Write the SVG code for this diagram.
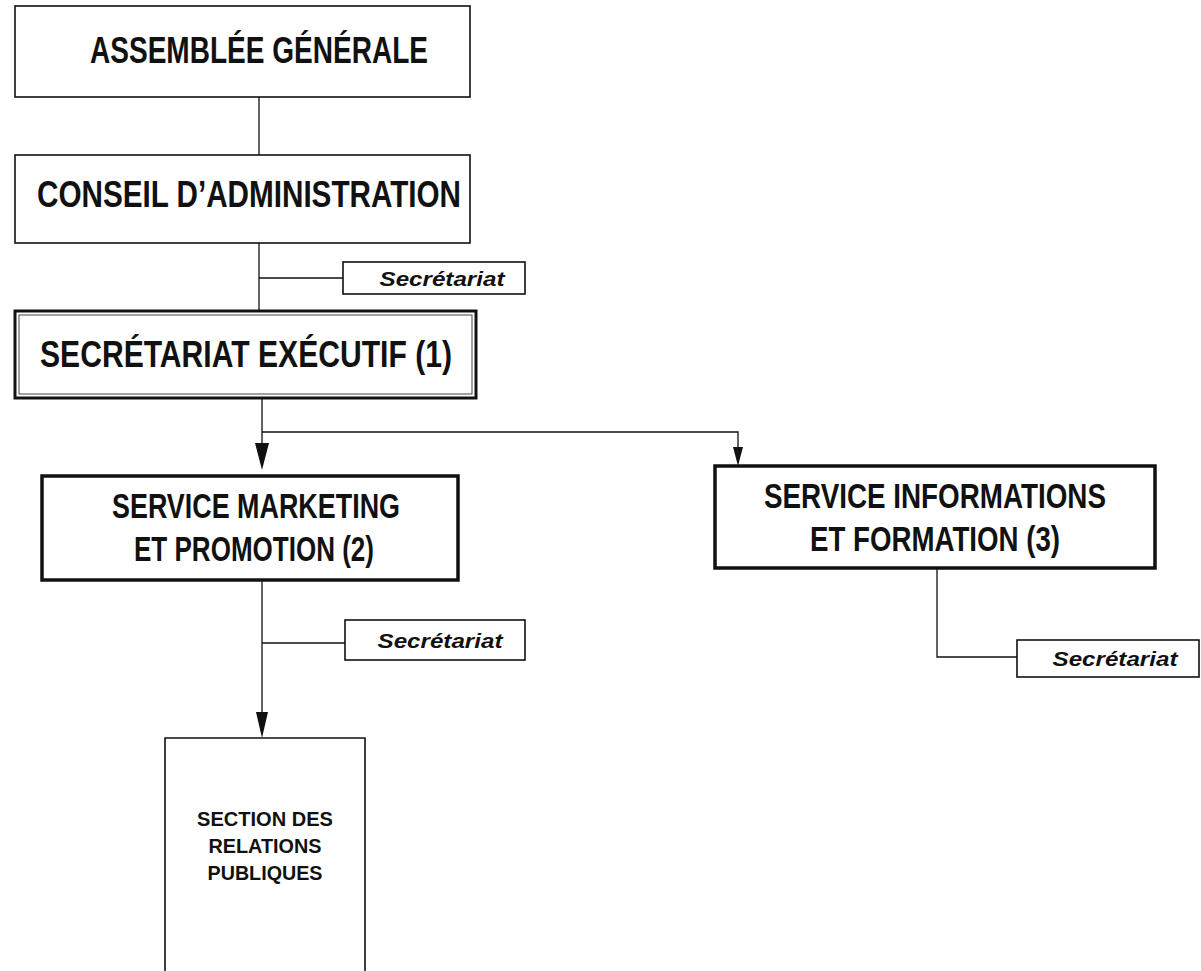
<svg xmlns="http://www.w3.org/2000/svg" width="1201" height="971" viewBox="0 0 1201 971">
<style>
.box{fill:#fff;stroke:#111;stroke-width:1.6}
.thick{fill:#fff;stroke:#111;stroke-width:3.5}
.ln{fill:none;stroke:#111;stroke-width:1.3}
.t{font-family:"Liberation Sans",Arial,sans-serif;fill:#111;text-anchor:middle}
.big{font-size:36px;font-weight:700}
.mid{font-size:35px;font-weight:700}
.sec{font-size:20px;font-weight:700;font-style:italic}
.sm{font-size:21px;font-weight:700}
</style>
<g id="connectors">
<line class="ln" x1="259" y1="97" x2="259" y2="155"/>
<line class="ln" x1="259" y1="243" x2="259" y2="311"/>
<line class="ln" x1="259" y1="278" x2="343" y2="278"/>
<line class="ln" x1="262" y1="398" x2="262" y2="443"/>
<path d="M255,443 L269,443 L262,470 Z" fill="#111"/>
<polyline class="ln" points="262,432 738,432 738,448"/>
<path d="M733,447 L743,447 L738,466 Z" fill="#111"/>
<line class="ln" x1="262" y1="580" x2="262" y2="712"/>
<path d="M256,712 L268,712 L262,738 Z" fill="#111"/>
<line class="ln" x1="262" y1="643" x2="345" y2="643"/>
<polyline class="ln" points="937,568 937,657 1017,657"/>
</g>
<g id="assemblee">
<rect class="box" x="15" y="6" width="455" height="91"/>
<text class="t big" x="259" y="63" textLength="338" lengthAdjust="spacingAndGlyphs">ASSEMBLÉE GÉNÉRALE</text>
</g>
<g id="conseil">
<rect class="box" x="15" y="155" width="455" height="88"/>
<text class="t big" x="249" y="207" textLength="424" lengthAdjust="spacingAndGlyphs">CONSEIL D’ADMINISTRATION</text>
</g>
<g id="secretariat1">
<rect class="box" x="343" y="262" width="182" height="32"/>
<text class="t sec" x="442" y="286" textLength="125" lengthAdjust="spacingAndGlyphs">Secrétariat</text>
</g>
<g id="secretariat-executif">
<rect fill="#fff" stroke="#111" stroke-width="3" x="15" y="311" width="461" height="87"/>
<rect fill="none" stroke="#444" stroke-width="1" x="19" y="315" width="453" height="79"/>
<text class="t big" x="246" y="367" textLength="412" lengthAdjust="spacingAndGlyphs">SECRÉTARIAT EXÉCUTIF (1)</text>
</g>
<g id="marketing">
<rect class="thick" x="42" y="476" width="416" height="104"/>
<text class="t mid" x="256" y="518" textLength="288" lengthAdjust="spacingAndGlyphs">SERVICE MARKETING</text>
<text class="t mid" x="254" y="561" textLength="240" lengthAdjust="spacingAndGlyphs">ET PROMOTION (2)</text>
</g>
<g id="informations">
<rect class="thick" x="715" y="466" width="440" height="102"/>
<text class="t mid" x="935" y="508" textLength="342" lengthAdjust="spacingAndGlyphs">SERVICE INFORMATIONS</text>
<text class="t mid" x="935" y="551" textLength="250" lengthAdjust="spacingAndGlyphs">ET FORMATION (3)</text>
</g>
<g id="secretariat2">
<rect class="box" x="345" y="620" width="180" height="40"/>
<text class="t sec" x="440" y="648" textLength="125" lengthAdjust="spacingAndGlyphs">Secrétariat</text>
</g>
<g id="secretariat3">
<rect class="box" x="1017" y="640" width="182" height="37"/>
<text class="t sec" x="1115" y="666" textLength="125" lengthAdjust="spacingAndGlyphs">Secrétariat</text>
</g>
<g id="relations">
<path class="box" d="M165,975 L165,738 L365,738 L365,975"/>
<text class="t sm" x="265" y="826" textLength="136" lengthAdjust="spacingAndGlyphs">SECTION DES</text>
<text class="t sm" x="265" y="853" textLength="113" lengthAdjust="spacingAndGlyphs">RELATIONS</text>
<text class="t sm" x="265" y="880" textLength="115" lengthAdjust="spacingAndGlyphs">PUBLIQUES</text>
</g>
</svg>
